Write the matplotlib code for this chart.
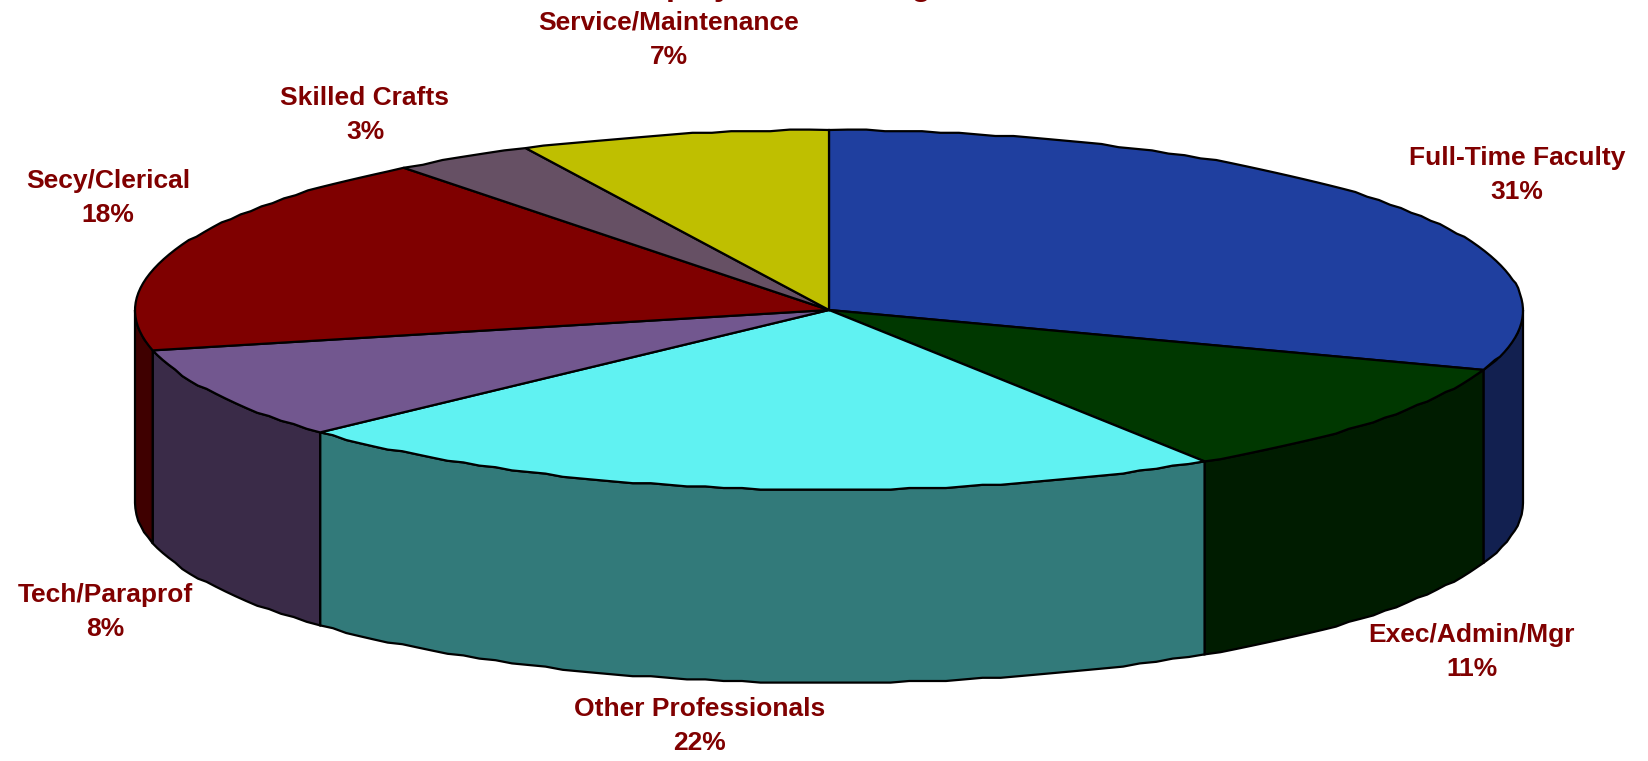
"""
Employee percentage distribution, drawn as an extruded pie.
"""
import numpy as np
import matplotlib
matplotlib.use('Agg')
import matplotlib.pyplot as plt
from matplotlib.patches import Polygon

plt.rcParams['font.family'] = ['Liberation Sans', 'DejaVu Sans']

# Chart data, clockwise from twelve o'clock
categories = ['Full-Time Faculty', 'Exec/Admin/Mgr', 'Other Professionals', 'Tech/Paraprof',
              'Secy/Clerical', 'Skilled Crafts', 'Service/Maintenance']
percent_labels = ['31%', '11%', '22%', '8%', '18%', '3%', '7%']
slice_values = [30.4, 10.5, 22.2, 8.3, 18.1, 3.3, 7.2]
top_colors = ['#1F3F9F', '#003800', '#60F2F2', '#72578F', '#7F0000', '#665064', '#BFBF00']
side_colors = ['#122050', '#001C00', '#327A7A', '#3A2B48', '#3F0000', '#332832', '#5F5F00']
# Only the descenders show in the reference, the first word is a guess
title_text = 'Overall Employee Percentage Distribution'

# Label centres in pixels (first line)
label_pos = [(1517, 158), (1472, 635), (700, 709), (105, 595), (108, 181), (365, 98), (669, 23)]

# Pie geometry in pixels
WIDTH, HEIGHT = 1648, 761
CX, CY = 829, 310
RX, RY = 694, 180
DEPTH = 193
LABEL_COLOR = '#800000'
FONT_SIZE = 19
LINE_GAP = 34
STEP = 1.6  # rim is slightly stair-stepped in the original


def rim(start, end):
    """Rim points between two parametric angles (degrees), stepped like the original."""
    n = max(int(abs(end - start) / 1.5), 2)
    t = np.radians(np.linspace(start, end, n))
    x = CX + RX * np.cos(t)
    y = CY + RY * np.sin(t)
    y[1:-1] = np.round(y[1:-1] / STEP) * STEP
    return x, y


fig = plt.figure(figsize=(WIDTH / 100, HEIGHT / 100), dpi=100)
ax = fig.add_axes([0, 0, 1, 1])
ax.set_xlim(0, WIDTH)
ax.set_ylim(HEIGHT, 0)
ax.axis('off')

# Angles run with y pointing down, so clockwise on screen is increasing angle
edges = -90 + 360 * np.cumsum([0] + slice_values) / np.sum(slice_values)

# Side walls first, only the part of each slice on the front half
for i in range(len(slice_values)):
    a0, a1 = max(edges[i], 0), min(edges[i + 1], 180)
    if a1 <= a0:
        continue
    x, y = rim(a0, a1)
    pts = np.column_stack([np.r_[x, x[::-1]], np.r_[y, y[::-1] + DEPTH]])
    ax.add_patch(Polygon(pts, closed=True, facecolor=side_colors[i], edgecolor='black', linewidth=1.6))

# Top faces
for i in range(len(slice_values)):
    x, y = rim(edges[i], edges[i + 1])
    pts = np.column_stack([np.r_[CX, x], np.r_[CY, y]])
    ax.add_patch(Polygon(pts, closed=True, facecolor=top_colors[i], edgecolor='black', linewidth=1.6))

# Labels
for name, pct, (lx, ly) in zip(categories, percent_labels, label_pos):
    ax.text(lx, ly, name, color=LABEL_COLOR, fontsize=FONT_SIZE, fontweight='bold', ha='center', va='center')
    ax.text(lx, ly + LINE_GAP, pct, color=LABEL_COLOR, fontsize=FONT_SIZE, fontweight='bold', ha='center', va='center')

# Title, cut off by the top of the image in the original
ax.text(818, -4.5, title_text, color=LABEL_COLOR, fontsize=FONT_SIZE + 4, fontweight='bold',
        ha='center', va='baseline')

fig.savefig('out.png', dpi=100)
plt.close(fig)
